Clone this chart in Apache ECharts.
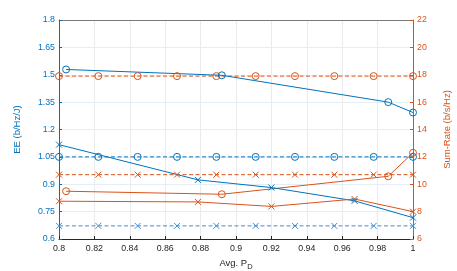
<!DOCTYPE html>
<html><head><meta charset="utf-8">
<script src="https://cdn.jsdelivr.net/npm/echarts@6/dist/echarts.min.js"></script>
<style>html,body{margin:0;padding:0;background:#fff}#c{width:457px;height:271px}</style>
</head><body><div id="c"></div>
<script>
// Uniform grid of P_D values for the dashed reference series
const xUniform = [0.8, 0.82222, 0.84444, 0.86667, 0.88889, 0.91111, 0.93333, 0.95556, 0.97778, 1.0];
// Solid series with circle markers
const xCircle = [0.804, 0.892, 0.986, 1.0];
const eeCircle = [1.529, 1.497, 1.35, 1.293];
const srCircle = [9.49, 9.27, 10.58, 12.3];
// Solid series with cross markers
const xCross = [0.8, 0.8785, 0.920, 0.967, 1.0];
const eeCross = [1.117, 0.924, 0.882, 0.809, 0.717];
const srCross = [8.76, 8.71, 8.38, 8.92, 8.0];
// Dashed (constant) series
const eeDashCircle = [1.05, 1.05, 1.05, 1.05, 1.05, 1.05, 1.05, 1.05, 1.05, 1.05];
const srDashCircle = [17.9, 17.9, 17.9, 17.9, 17.9, 17.9, 17.9, 17.9, 17.9, 17.9];
const srDashCross = [10.7, 10.7, 10.7, 10.7, 10.7, 10.7, 10.7, 10.7, 10.7, 10.7];
const eeDashCross = [0.672, 0.672, 0.672, 0.672, 0.672, 0.672, 0.672, 0.672, 0.672, 0.672];

const BLUE = '#0072BD', ORANGE = '#D95319', AX = '#262626';
const FONT = 'Liberation Sans';
const CROSS = 'path://M0,0L10,10M10,0L0,10';
const pairs = (xs, ys) => xs.map((x, i) => [x, ys[i]]);

function ser(name, xs, ys, axis, color, dashed, marker) {
  const isCross = marker === 'x';
  return {
    name, type: 'line', yAxisIndex: axis, data: pairs(xs, ys),
    symbol: isCross ? CROSS : 'circle',
    symbolSize: isCross ? 6 : 7,
    showSymbol: true,
    lineStyle: { color, width: 1, type: dashed ? [4, 2.5] : 'solid' },
    itemStyle: { color: isCross ? color : 'rgba(255,255,255,0)', borderColor: color, borderWidth: 1 },
    emphasis: { disabled: true },
    animation: false
  };
}

const chart = echarts.init(document.getElementById('c'), null, { renderer: 'canvas' });
chart.setOption({
  animation: false,
  grid: { left: 59, right: 44, top: 20, bottom: 32, containLabel: false, outerBoundsMode: 'none' },
  xAxis: [{
    type: 'value', min: 0.8, max: 1, interval: 0.02,
    name: 'Avg. P{sub|D}', nameLocation: 'middle', nameGap: 14,
    nameTextStyle: { color: AX, fontFamily: FONT, fontSize: 9.5,
      rich: { sub: { fontSize: 7.5, verticalAlign: 'bottom', padding: [8, 0, 0, 0], color: AX, fontFamily: FONT } } },
    axisLine: { show: true, lineStyle: { color: AX, width: 1 } },
    axisTick: { show: true, inside: true, length: 3, lineStyle: { color: AX } },
    axisLabel: { color: AX, fontFamily: FONT, fontSize: 8.8, margin: 5 },
    splitLine: { show: true, lineStyle: { color: '#ebebeb', width: 1 } }
  }, {
    type: 'value', position: 'top', min: 0.8, max: 1, interval: 0.02,
    axisLine: { show: true, lineStyle: { color: '#7a7a7a', width: 1 } },
    axisTick: { show: false }, axisLabel: { show: false }, splitLine: { show: false }
  }],
  yAxis: [
    {
      type: 'value', position: 'left', min: 0.6, max: 1.8, interval: 0.15,
      name: 'EE (b/Hz/J)', nameLocation: 'middle', nameGap: 37,
      nameTextStyle: { color: BLUE, fontFamily: FONT, fontSize: 9.5 },
      axisLine: { show: true, lineStyle: { color: BLUE, width: 1 } },
      axisTick: { show: true, inside: true, length: 3, lineStyle: { color: BLUE } },
      axisLabel: { color: BLUE, fontFamily: FONT, fontSize: 8.8, margin: 4 },
      splitLine: { show: true, lineStyle: { color: '#e3eef7', width: 1 } }
    },
    {
      type: 'value', position: 'right', min: 6, max: 22, interval: 2,
      name: 'Sum-Rate (b/s/Hz)', nameLocation: 'middle', nameGap: 29,
      nameTextStyle: { color: ORANGE, fontFamily: FONT, fontSize: 9.5 },
      axisLine: { show: true, lineStyle: { color: ORANGE, width: 1 } },
      axisTick: { show: true, inside: true, length: 3, lineStyle: { color: ORANGE } },
      axisLabel: { color: ORANGE, fontFamily: FONT, fontSize: 8.8, margin: 4 },
      splitLine: { show: false }
    }
  ],
  series: [
    ser('EE dashed circle', xUniform, eeDashCircle, 0, BLUE, true, 'o'),
    ser('SR dashed circle', xUniform, srDashCircle, 1, ORANGE, true, 'o'),
    ser('SR dashed cross', xUniform, srDashCross, 1, ORANGE, true, 'x'),
    ser('EE dashed cross', xUniform, eeDashCross, 0, '#3d8fd1', true, 'x'),
    ser('EE circle', xCircle, eeCircle, 0, BLUE, false, 'o'),
    ser('SR circle', xCircle, srCircle, 1, ORANGE, false, 'o'),
    ser('EE cross', xCross, eeCross, 0, BLUE, false, 'x'),
    ser('SR cross', xCross, srCross, 1, ORANGE, false, 'x')
  ]
});
</script></body></html>
